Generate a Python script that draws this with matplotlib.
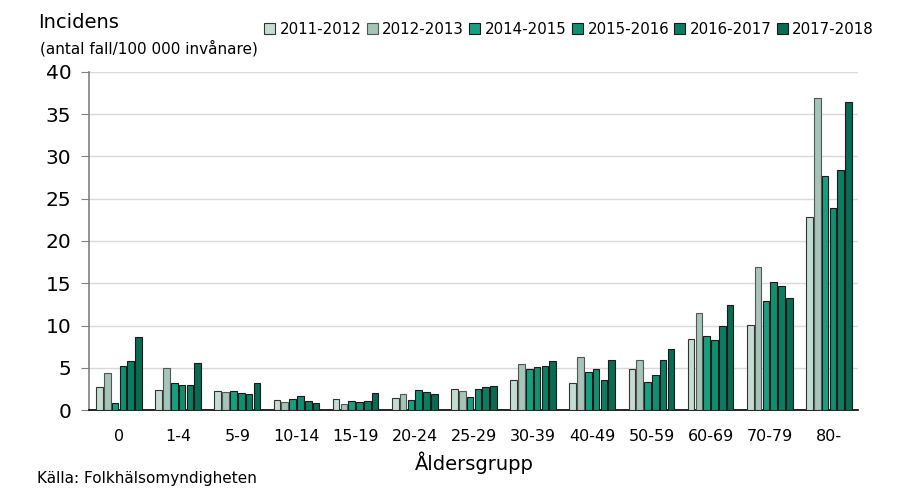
import matplotlib
matplotlib.use("Agg")
import matplotlib.pyplot as plt
import numpy as np

categories = ["0", "1-4", "5-9", "10-14", "15-19", "20-24", "25-29", "30-39",
              "40-49", "50-59", "60-69", "70-79", "80-"]
series_names = ["2011-2012", "2012-2013", "2014-2015", "2015-2016", "2016-2017", "2017-2018"]
s2011 = [2.69, 2.37, 2.25, 1.18, 1.30, 1.42, 2.48, 3.59, 3.23, 4.85, 8.36, 10.10, 22.88]
s2012 = [4.34, 4.93, 2.13, 0.95, 0.71, 1.93, 2.25, 5.40, 6.27, 5.88, 11.44, 16.96, 36.88]
s2014 = [0.83, 3.15, 2.25, 1.30, 1.07, 1.14, 1.54, 4.85, 4.54, 3.35, 8.80, 12.86, 27.65]
s2015 = [5.17, 2.92, 2.05, 1.66, 0.95, 2.37, 2.48, 5.05, 4.85, 4.14, 8.28, 15.15, 23.94]
s2016 = [5.84, 2.90, 1.93, 1.07, 1.07, 2.13, 2.68, 5.17, 3.59, 5.88, 9.90, 14.67, 28.44]
s2017 = [8.60, 5.56, 3.15, 0.83, 2.05, 1.93, 2.80, 5.76, 5.88, 7.18, 12.39, 13.25, 36.49]
series = [s2011, s2012, s2014, s2015, s2016, s2017]
colors = ["#c4ddd3", "#a4c5b7", "#16a080", "#109070", "#0b7e61", "#086b52"]
edges = ["#333333", "#555555", "#1a1a1a", "#1a1a1a", "#1a1a1a", "#1a1a1a"]

fig = plt.figure(figsize=(8.98, 5.0), dpi=100)
ax = fig.add_axes([0.0996, 0.18, 0.8564, 0.676])

x = np.arange(len(categories))
step = 0.132
width = 0.112
for i, (vals, c, ec, name) in enumerate(zip(series, colors, edges, series_names)):
    ax.bar(x + (i - 2.5) * step, vals, width=width, color=c, edgecolor=ec,
           linewidth=0.8, label=name, zorder=3)

ax.set_xlim(-0.5, len(categories) - 0.5)
ax.set_ylim(0, 40)
ax.set_yticks(range(0, 41, 5))
ax.tick_params(axis="y", labelsize=14.5, length=6, color="#808080", pad=7)
ax.set_xticks(x)
ax.set_xticklabels(categories)
ax.tick_params(axis="x", labelsize=11.5, length=0, pad=14)
ax.yaxis.grid(True, color="#d9d9d9", linewidth=1.0, zorder=0)
ax.set_axisbelow(True)
for s in ["top", "right"]:
    ax.spines[s].set_visible(False)
ax.spines["left"].set_color("#808080")
ax.spines["left"].set_linewidth(1.2)
ax.spines["bottom"].set_color("#000000")
ax.spines["bottom"].set_linewidth(1.2)

ax.set_xlabel("Åldersgrupp", fontsize=14, labelpad=5)

fig.text(0.043, 0.955, "Incidens", fontsize=14, va="center", ha="left")
fig.text(0.044, 0.903, "(antal fall/100 000 invånare)", fontsize=11, va="center", ha="left")
fig.text(0.041, 0.043, "Källa: Folkhälsomyndigheten", fontsize=11, va="center", ha="left")

fig.legend(loc="center right", bbox_to_anchor=(0.98, 0.942), ncol=6, frameon=False,
           fontsize=10.8, handlelength=0.75, handleheight=0.75, handletextpad=0.3,
           columnspacing=0.33, borderaxespad=0)

fig.savefig("out.png", dpi=100)
